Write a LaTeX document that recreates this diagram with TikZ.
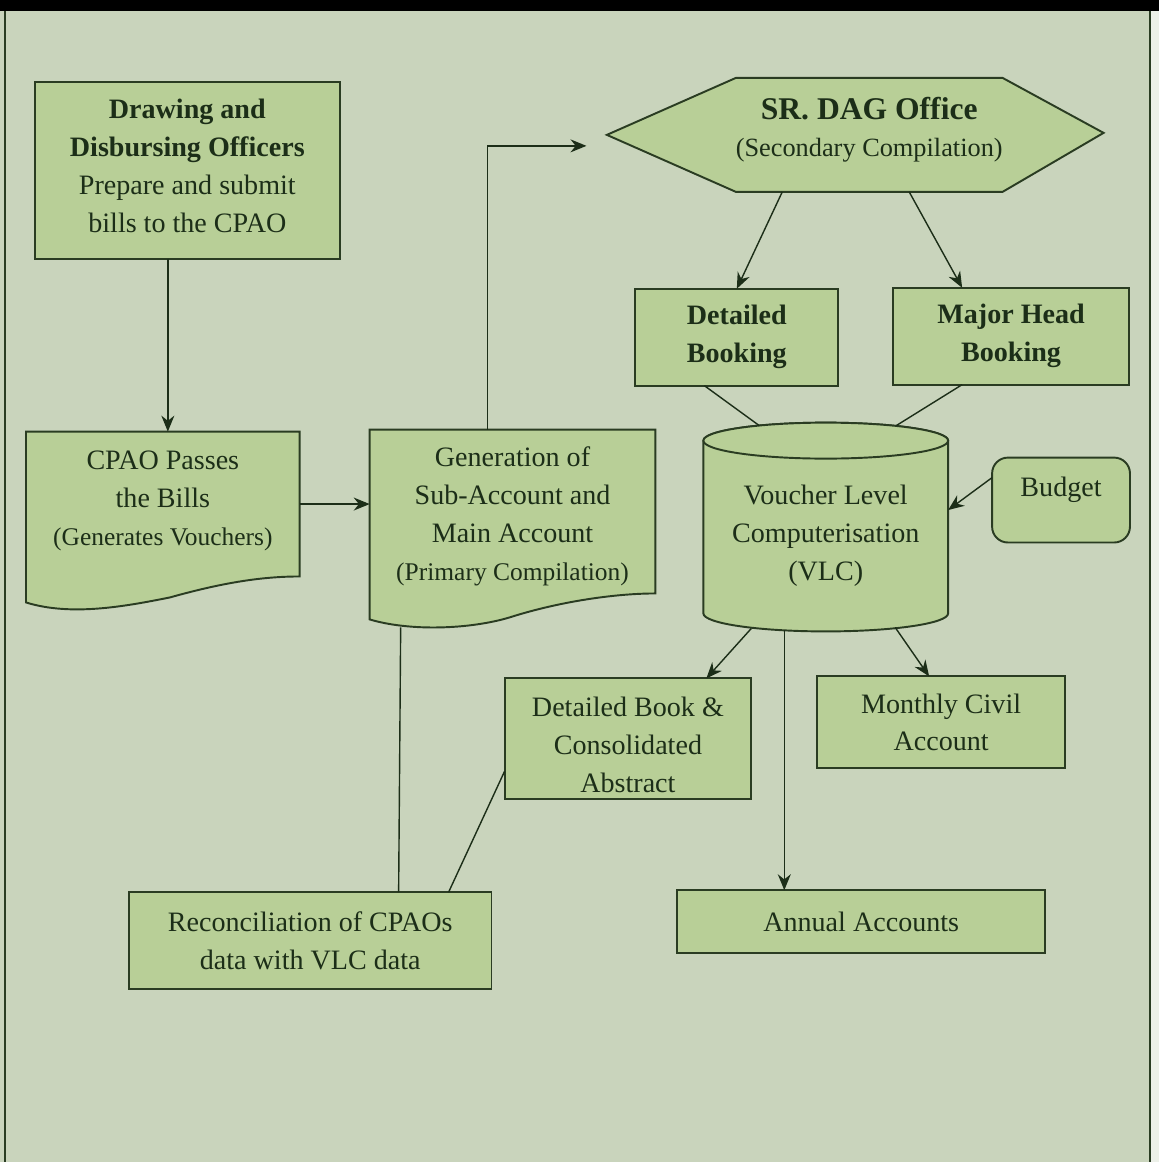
\documentclass[tikz,border=0pt]{standalone}
\usepackage{fontspec}
\setmainfont{Liberation Serif}
\usetikzlibrary{arrows.meta,positioning,calc,backgrounds}
\definecolor{paper}{HTML}{C9D4BC}
\definecolor{boxgreen}{HTML}{B8CF97}
\definecolor{inkgreen}{HTML}{1C2E18}
\definecolor{edgegreen}{HTML}{2A3C22}

\begin{document}
\begin{tikzpicture}[
  x=0.02cm, y=-0.02cm,
  box/.style={rectangle, draw=edgegreen, fill=boxgreen, line width=1.1pt, inner sep=0pt, outer sep=0pt, align=center, text=inkgreen, font=\fontsize{16}{21.6}\selectfont},
  textonly/.style={rectangle, inner sep=0pt, outer sep=0pt, align=center, text=inkgreen, font=\fontsize{16}{21.6}\selectfont},
  shapeline/.style={draw=edgegreen, fill=boxgreen, line width=1.1pt},
  arr/.style={-{Stealth[length=3.2mm, width=2.6mm]}, draw=inkgreen, line width=0.8pt},
  link/.style={draw=inkgreen, line width=0.8pt}
]
  % page
  \begin{scope}[on background layer]
    \fill[paper] (0,0) rectangle (1160,1163);
    \fill[black] (0,0) rectangle (1160,11);
    \fill[white!65!paper] (1152,11) rectangle (1160,1163);
    \draw[edgegreen, line width=1.2pt] (5,11) -- (5,1163);
    \draw[edgegreen, line width=1.2pt] (1151,11) -- (1151,1163);
  \end{scope}

  \node[box, minimum width=6.1cm, minimum height=3.54cm] (ddo) at (187.5,170.5)
    {\textbf{Drawing and}\\\textbf{Disbursing Officers}\\Prepare and submit\\bills to the CPAO\\[-16pt]\mbox{}};
  \node[textonly, minimum width=5.48cm, minimum height=2.9cm] (cpao) at (163,504.5)
    {CPAO Passes\\the Bills\\{\fontsize{14.5}{21.6}\selectfont (Generates Vouchers)}\\[-15pt]\mbox{}};
  \node[textonly, minimum width=5.72cm, minimum height=3.28cm] (gen) at (513,512)
    {\rule{0pt}{17pt}Generation of\\Sub-Account and\\Main Account\\{\fontsize{14.5}{21.6}\selectfont (Primary Compilation)}};
  \node[textonly, minimum width=5.2cm, minimum height=2.28cm] (dag) at (870,135)
    {\textbf{\fontsize{18}{21.6}\selectfont SR. DAG Office}\\{\fontsize{15}{21.6}\selectfont (Secondary Compilation)}\\[-12.5pt]\mbox{}};
  \node[box, minimum width=4.06cm, minimum height=1.94cm] (detb) at (737.5,337.5)
    {\textbf{Detailed}\\\textbf{Booking}};
  \node[box, minimum width=4.72cm, minimum height=1.94cm] (majb) at (1012,336.5)
    {\textbf{Major Head}\\\textbf{Booking}};
  \node[textonly, minimum width=4.9cm, minimum height=3.82cm] (vlc) at (826.5,536.5)
    {Voucher Level\\Computerisation\\(VLC)};
  \node[box, rounded corners=9pt, minimum width=2.76cm, minimum height=1.7cm] (budget) at (1062,500.5)
    {Budget\\[-6pt]\mbox{}};
  \node[box, minimum width=4.94cm, minimum height=2.42cm] (dbca) at (628.5,739.5)
    {\rule{0pt}{18pt}Detailed Book \&\\Consolidated\\Abstract};
  \node[box, minimum width=4.96cm, minimum height=1.84cm] (mca) at (942,723)
    {Monthly Civil\\Account};
  \node[box, minimum width=7.26cm, minimum height=1.94cm] (recon) at (310.5,941.5)
    {Reconciliation of CPAOs\\data with VLC data};
  \node[box, minimum width=7.36cm, minimum height=1.26cm] (annual) at (862,922.5)
    {Annual Accounts};
  \coordinate (gtip) at (587,146);

  % outlines behind the texts
  \begin{scope}[on background layer]
    \filldraw[shapeline] (cpao.north west) -- (cpao.north east) -- (cpao.south east)
      .. controls +(-40,0) and +(50,-14) .. ($(cpao.south west)+(144,21)$)
      .. controls +(-45,9) and +(45,14) .. ($(cpao.south west)+(0,26)$) -- cycle;
    \filldraw[shapeline] (gen.north west) -- (gen.north east) -- (gen.south east)
      .. controls +(-40,0) and +(50,-16) .. ($(gen.south west)+(140,24)$)
      .. controls +(-40,12) and +(40,12) .. ($(gen.south west)+(0,26)$) -- cycle;
    \filldraw[shapeline] ($(dag.west)+(-129,0)$) -- (dag.north west) -- (dag.north east)
      -- ($(dag.east)+(101,-2)$) -- (dag.south east) -- (dag.south west) -- cycle;
    \filldraw[shapeline] (vlc.north west) -- ($(vlc.south west)+(0,-18)$)
      arc[start angle=180, end angle=360, x radius=2.45cm, y radius=0.36cm]
      -- (vlc.north east)
      arc[start angle=0, end angle=180, x radius=2.45cm, y radius=0.36cm] -- cycle;
    \draw[shapeline] (vlc.north) ellipse[x radius=2.45cm, y radius=0.36cm];
  \end{scope}

  \draw[arr] ($(ddo.south)+(-19.5,0)$) -- ($(cpao.north)+(5,0)$);
  \draw[arr] (cpao.east) -- (cpao.east -| gen.west);
  \draw[arr] ($(gen.north)+(-25,0)$) |- (gtip);
  \draw[arr] ($(dag.south)+(-87,0)$) -- (detb.north);
  \draw[arr] ($(dag.south)+(40,0)$) -- ($(majb.north)+(-49,0)$);
  \draw[link] ($(detb.south)+(-32.5,0)$) -- ($(vlc.north)+(-66.5,-15)$);
  \draw[link] ($(majb.south)+(-49,0)$) -- ($(vlc.north)+(70.5,-15)$);
  \draw[arr] ($(budget.west)+(0,-22.5)$) -- ($(vlc.east)+(0,-26)$);
  \draw[arr] ($(vlc.south)+(-74.5,-3)$) -- ($(dbca.north)+(78.5,0)$);
  \draw[arr] ($(vlc.south)+(-41.5,-1)$) -- ($(annual.north)+(-77,0)$);
  \draw[arr] ($(vlc.south)+(69.5,-4)$) -- ($(mca.north)+(-12,0)$);
  \draw[link] ($(gen.south west)+(31,34)$) -- ($(recon.north)+(88.5,0)$);
  \draw[link] ($(dbca.west)+(0,32.5)$) -- ($(recon.north)+(138.5,0)$);
\end{tikzpicture}
\end{document}
